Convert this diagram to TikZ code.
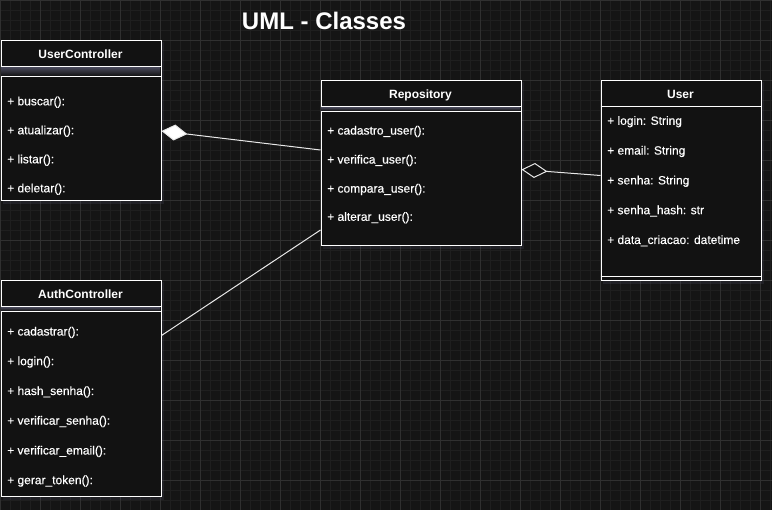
\documentclass[tikz,border=0pt]{standalone}
\usepackage{fontspec}
\setmainfont{Liberation Sans}
\newfontfamily\memfont{Liberation Sans}[FakeBold=0.35]
\usetikzlibrary{arrows.meta}
\definecolor{bgc}{HTML}{151515}
\definecolor{minorc}{HTML}{1F1F1F}
\definecolor{majorc}{HTML}{303030}
\definecolor{boxc}{HTML}{121212}
\definecolor{glowc}{HTML}{5C5C74}
\definecolor{linec}{HTML}{E8E8E8}
\tikzset{
 clsbox/.style={draw=white, line width=1pt, fill=boxc, rectangle, inner sep=0pt, anchor=north west},
 clstitle/.style={text=white, font=\fontsize{12}{14}\selectfont\bfseries, anchor=base, inner sep=0pt},
 member/.style={text=white, font=\memfont\fontsize{12}{14}\selectfont, anchor=base west, inner sep=0pt},
 sepline/.style={draw=white, line width=1pt},
 conn/.style={draw=linec, line width=1pt},
 boxshadow/.style={fill=glowc, opacity=0.18},
 bandglow/.style={top color=glowc!75!boxc, bottom color=boxc},
}
\begin{document}
\begin{tikzpicture}[x=1pt,y=-1pt]
\useasboundingbox (0,0) rectangle (772,510);
\fill[bgc] (0,0) rectangle (772,510);
\draw[minorc, line width=0.7pt, step=10pt] (0,0) grid (772,510);
\draw[majorc, line width=0.8pt, step=40pt] (0,0) grid (772,510);

% title
\node[text=white, font=\fontsize{24}{28}\selectfont\bfseries, anchor=base, inner sep=0pt] (title) at (324,30) {UML - Classes};

% shadows
\fill[boxshadow] (2.5,42.5) rectangle (164,204);
\fill[boxshadow] (322.5,82.5) rectangle (524,249);
\fill[boxshadow] (602.5,82.5) rectangle (764,284);
\fill[boxshadow] (2.5,282.5) rectangle (164,500);

% UserController
\node[clsbox, minimum width=160pt, minimum height=160pt] (uc) at (0.5,40.5) {};
\shade[bandglow] (1,67) rectangle (160,76);
\draw[sepline] (0.5,66.5) -- (160.5,66.5);
\draw[sepline] (0.5,76.5) -- (160.5,76.5);
\node[clstitle] (uct) at (80.5,58.6) {UserController};
\node[member] (uc1) at (7,105.3) {+ buscar():};
\node[member] (uc2) at (7,134.3) {+ atualizar():};
\node[member] (uc3) at (7,163.3) {+ listar():};
\node[member] (uc4) at (7,192.3) {+ deletar():};

% Repository
\node[clsbox, minimum width=200pt, minimum height=165pt] (rp) at (320.5,80.5) {};
\shade[bandglow] (321,107) rectangle (520,111);
\draw[sepline] (320.5,106.5) -- (520.5,106.5);
\draw[sepline] (320.5,111.5) -- (520.5,111.5);
\node[clstitle] (rpt) at (420.5,98.6) {Repository};
\node[member] (rp1) at (327,134.6) {+ cadastro\_user():};
\node[member] (rp2) at (327,163.6) {+ verifica\_user():};
\node[member] (rp3) at (327,192.6) {+ compara\_user():};
\node[member] (rp4) at (327,220.8) {+ alterar\_user():};

% User
\node[clsbox, minimum width=160pt, minimum height=200pt] (us) at (600.5,80.5) {};
\draw[sepline] (600.5,106.5) -- (760.5,106.5);
\draw[sepline] (600.5,276.5) -- (760.5,276.5);
\node[clstitle] (ust) at (680.5,98.6) {User};
\node[member] (us1) at (607,124.8) {+ login: String};
\node[member] (us2) at (607,154.6) {+ email: String};
\node[member] (us3) at (607,184.4) {+ senha: String};
\node[member] (us4) at (607,214.2) {+ senha\_hash: str};
\node[member] (us5) at (607,244.0) {+ data\_criacao: datetime};

% AuthController
\node[clsbox, minimum width=160pt, minimum height=216pt] (ac) at (0.5,280.5) {};
\shade[bandglow] (1,307) rectangle (160,311);
\draw[sepline] (0.5,306.5) -- (160.5,306.5);
\draw[sepline] (0.5,311.5) -- (160.5,311.5);
\node[clstitle] (act) at (80.5,298.6) {AuthController};
\node[member] (ac1) at (7,335.5) {+ cadastrar():};
\node[member] (ac2) at (7,365.2) {+ login():};
\node[member] (ac3) at (7,395.0) {+ hash\_senha():};
\node[member] (ac4) at (7,424.7) {+ verificar\_senha():};
\node[member] (ac5) at (7,454.5) {+ verificar\_email():};
\node[member] (ac6) at (7,484.2) {+ gerar\_token():};

% connector end points on the boxes
\path (uc.north east) ++(0,90.5) coordinate (ucR);
\path (rp.north west) ++(0,69.5) coordinate (rpL1);
\path (rp.north west) ++(0,149.5) coordinate (rpL2);
\path (rp.north east) ++(0,89) coordinate (rpR);
\path (us.north west) ++(0,95) coordinate (usL);
\path (ac.north east) ++(0,55) coordinate (acR);

\draw[conn, {Diamond[length=26pt,width=16pt,fill=white]}-] (ucR) -- (rpL1);
\draw[conn, {Diamond[length=26pt,width=15pt,fill=boxc]}-] (rpR) -- (usL);
\draw[conn] (acR) -- (rpL2);
\end{tikzpicture}
\end{document}
